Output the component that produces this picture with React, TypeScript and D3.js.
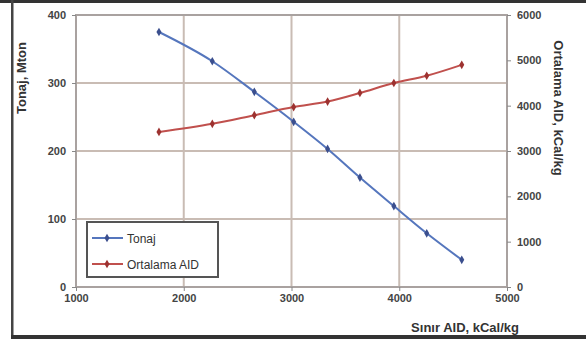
import React, { useEffect, useRef } from "react";
import * as d3 from "d3";

// values
const sinirAid = [1770, 2265, 2655, 3020, 3335, 3635, 3950, 4255, 4580];
const tonaj = [375, 332, 287, 243, 203, 161, 119, 79, 40];
const ortalamaAid = [3420, 3600, 3790, 3970, 4090, 4280, 4500, 4660, 4900];

const xTicks = [1000, 2000, 3000, 4000, 5000];
const leftTicks = [0, 100, 200, 300, 400];
const rightTicks = [0, 1000, 2000, 3000, 4000, 5000, 6000];

const App = () => {
  const svgRef = useRef(null);

  useEffect(() => {
    const width = 586;
    const height = 339;
    const svg = d3.select(svgRef.current);
    svg.selectAll("*").remove();
    svg.attr("width", width).attr("height", height).style("background", "white");

    const font = "Liberation Sans, Arial, sans-serif";
    const left = 76, right = 507, top = 15, bottom = 287;

    const x = d3.scaleLinear().domain([1000, 5000]).range([left, right]);
    const yL = d3.scaleLinear().domain([0, 400]).range([bottom, top]);
    const yR = d3.scaleLinear().domain([0, 6000]).range([bottom, top]);

    // outer frame of the scan
    svg.append("rect").attr("x", 0).attr("y", 0).attr("width", width).attr("height", 3).attr("fill", "#333");
    svg.append("rect").attr("x", 11).attr("y", 0).attr("width", 2.5).attr("height", height).attr("fill", "#444");
    svg.append("rect").attr("x", 11).attr("y", 335).attr("width", width).attr("height", 4).attr("fill", "#333");

    const grid = "#c9bcb4";
    svg.append("g")
      .selectAll("line.gx")
      .data(xTicks.slice(1, -1))
      .join("line")
      .attr("x1", (d) => x(d)).attr("x2", (d) => x(d))
      .attr("y1", top).attr("y2", bottom)
      .attr("stroke", grid).attr("stroke-width", 2);
    svg.append("g")
      .selectAll("line.gy")
      .data(leftTicks.slice(1, -1))
      .join("line")
      .attr("x1", left).attr("x2", right)
      .attr("y1", (d) => yL(d)).attr("y2", (d) => yL(d))
      .attr("stroke", grid).attr("stroke-width", 2);

    svg.append("rect")
      .attr("x", left).attr("y", top)
      .attr("width", right - left).attr("height", bottom - top)
      .attr("fill", "none").attr("stroke", "#a9a2a0").attr("stroke-width", 2);

    const styleAxis = (g) => {
      g.select(".domain").remove();
      g.selectAll(".tick line").attr("stroke", "#888");
      g.selectAll(".tick text")
        .attr("fill", "#444").attr("font-family", font)
        .attr("font-size", 11).attr("font-weight", "bold");
    };

    svg.append("g").attr("transform", `translate(0,${bottom})`)
      .call(d3.axisBottom(x).tickValues(xTicks).tickSize(4).tickPadding(3).tickFormat(d3.format("d")))
      .call(styleAxis);
    svg.append("g").attr("transform", `translate(${left},0)`)
      .call(d3.axisLeft(yL).tickValues(leftTicks).tickSize(4).tickPadding(6).tickFormat(d3.format("d")))
      .call(styleAxis);
    svg.append("g").attr("transform", `translate(${right},0)`)
      .call(d3.axisRight(yR).tickValues(rightTicks).tickSize(4).tickPadding(6).tickFormat(d3.format("d")))
      .call(styleAxis);

    const blue = "#5576bd";
    const red = "#c0504d";
    const series = [
      { name: "Tonaj", values: tonaj, y: yL, color: blue, mark: "#3b4f8e" },
      { name: "Ortalama AID", values: ortalamaAid, y: yR, color: red, mark: "#9d3230" },
    ];

    series.forEach((s) => {
      const pts = sinirAid.map((v, i) => [v, s.values[i]]);
      svg.append("path")
        .datum(pts)
        .attr("fill", "none").attr("stroke", s.color).attr("stroke-width", 2)
        .attr("d", d3.line().x((d) => x(d[0])).y((d) => s.y(d[1])).curve(d3.curveMonotoneX));
      svg.append("g")
        .selectAll("path")
        .data(pts)
        .join("path")
        .attr("transform", (d) => `translate(${x(d[0])},${s.y(d[1])})`)
        .attr("d", d3.symbol(d3.symbolDiamond, 22))
        .attr("fill", s.mark);
    });

    // legend
    const lg = svg.append("g").attr("transform", "translate(87,222)");
    lg.append("rect").attr("width", 131).attr("height", 55)
      .attr("fill", "white").attr("stroke", "#555").attr("stroke-width", 2);
    series.forEach((s, i) => {
      const ly = 16 + i * 26;
      lg.append("line").attr("x1", 5).attr("x2", 36).attr("y1", ly).attr("y2", ly)
        .attr("stroke", s.color).attr("stroke-width", 2);
      lg.append("path").attr("transform", `translate(20,${ly})`)
        .attr("d", d3.symbol(d3.symbolDiamond, 22)).attr("fill", s.mark);
      lg.append("text").attr("x", 40).attr("y", ly + 4.5)
        .attr("font-family", font).attr("font-size", 12).attr("fill", "#333")
        .text(s.name);
    });

    // axis titles
    svg.append("text")
      .attr("transform", "translate(26,78) rotate(-90)")
      .attr("text-anchor", "middle")
      .attr("font-family", font).attr("font-size", 13).attr("font-weight", "bold").attr("fill", "#333")
      .text("Tonaj, Mton");
    svg.append("text")
      .attr("transform", "translate(554,108) rotate(90)")
      .attr("text-anchor", "middle")
      .attr("font-family", font).attr("font-size", 13).attr("font-weight", "bold").attr("fill", "#333")
      .text("Ortalama AID, kCal/kg");
    svg.append("text")
      .attr("x", 519).attr("y", 332)
      .attr("text-anchor", "end")
      .attr("font-family", font).attr("font-size", 13).attr("font-weight", "bold").attr("fill", "#333")
      .text("Sınır AID, kCal/kg");
  }, []);

  return (
    <div style={{ position: "absolute", left: 0, top: 0 }}>
      <svg ref={svgRef}></svg>
    </div>
  );
};

export default App;
